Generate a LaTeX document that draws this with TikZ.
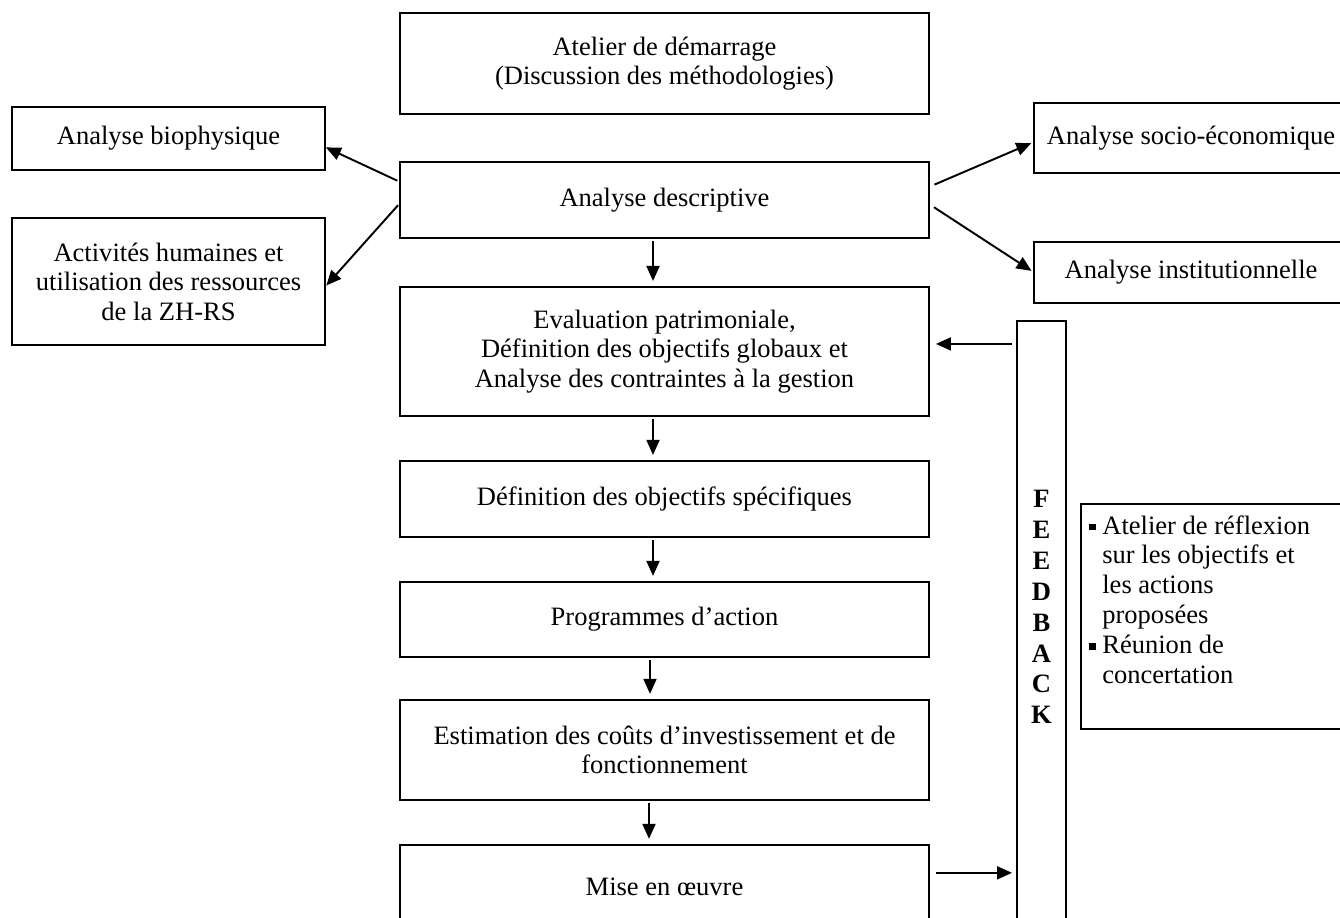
\documentclass[tikz,border=0pt]{standalone}
\usepackage{fontspec}
\setmainfont{Liberation Serif}
\usepackage{tikz}
\usetikzlibrary{positioning}
\usetikzlibrary{arrows.meta}

\newcommand{\puce}{\makebox[0.26cm][l]{\rule[0.14em]{0.25em}{0.25em}}}
\newcommand{\retrait}{\hspace*{0.26cm}}

\tikzset{
	boite/.style={draw,line width=1.1pt,align=center,inner sep=0pt,outer sep=0pt},
	etape/.style={boite,minimum width=10.58cm},
	fleche/.style={line width=1.1pt,-{Triangle[length=0.3cm,width=0.26cm]}},
	vers/.style={fleche,shorten <=0.06cm,shorten >=0.12cm},
}

\begin{document}
\begin{tikzpicture}[x=0.02cm,y=-0.02cm,font=\fontsize{15.1}{16.8}\selectfont]
	\clip (0,0) rectangle (1340,918);
	
	% main column
	\node[etape,minimum height=2.02cm] (demarrage) at (664.5,63.5) {Atelier de démarrage\\(Discussion des méthodologies)};
	\node[etape,minimum height=1.52cm] (descriptive) [below=0.96cm of demarrage] {Analyse descriptive};
	\node[etape,minimum height=2.58cm] (evaluation) [below=0.98cm of descriptive] {Evaluation patrimoniale,\\Définition des objectifs globaux et\\Analyse des contraintes à la gestion};
	\node[etape,minimum height=1.52cm] (specifiques) [below=0.9cm of evaluation] {Définition des objectifs spécifiques};
	\node[etape,minimum height=1.5cm] (programmes) [below=0.9cm of specifiques] {Programmes d’action};
	\node[etape,minimum height=2.0cm] (couts) [below=0.86cm of programmes] {Estimation des coûts d’investissement et de\\fonctionnement};
	\node[etape,minimum height=1.68cm] (miseoeuvre) [below=0.9cm of couts] {Mise en œuvre};
	
	% analyses on both sides
	\node[boite,minimum width=6.26cm,minimum height=1.26cm] (biophysique) at (168.5,138.5) {Analyse biophysique};
	\node[boite,minimum width=6.26cm,minimum height=2.54cm] (activites) at (168.5,281.5) {Activités humaines et\\utilisation des ressources\\de la ZH-RS};
	\node[boite,minimum width=6.28cm,minimum height=1.4cm] (socio) at (1191,138) {Analyse socio-économique};
	\node[boite,minimum width=6.28cm,minimum height=1.22cm] (institution) at (1191,272.5) {Analyse institutionnelle};
	
	% feedback column and its note
	\node[boite,minimum width=0.98cm,minimum height=12.78cm] (feedback) at (1041.5,640.5) {};
	\node[font=\bfseries\fontsize{15.1}{17.6}\selectfont,align=center] (lettres) at (1041.5,607) {F\\E\\E\\D\\B\\A\\C\\K};
	\node[boite,minimum width=5.34cm,minimum height=4.5cm] (reflexion) at (1214.5,616.5) {};
	\node[anchor=north west,align=left,inner sep=0pt,font=\fontsize{15.1}{17}\selectfont] (actions) at (1089,515) {\puce Atelier de réflexion\\\retrait sur les objectifs et\\\retrait les actions\\\retrait proposées\\\puce Réunion de\\\retrait concertation};
	
	% arrows down the column
	\draw[vers] ([xshift=-0.23cm]descriptive.south) -- ([xshift=-0.23cm]evaluation.north);
	\draw[vers] ([xshift=-0.23cm]evaluation.south) -- ([xshift=-0.23cm]specifiques.north);
	\draw[vers] ([xshift=-0.23cm]specifiques.south) -- ([xshift=-0.23cm]programmes.north);
	\draw[vers] ([xshift=-0.29cm]programmes.south) -- ([xshift=-0.29cm]couts.north);
	\draw[vers] ([xshift=-0.31cm]couts.south) -- ([xshift=-0.31cm]miseoeuvre.north);
	
	% arrows to the analyses
	\draw[fleche,shorten <=0.06cm,shorten >=0.02cm] ([yshift=0.36cm]descriptive.west) -- ([yshift=-0.17cm]biophysique.east);
	\draw[fleche,shorten <=0.06cm,shorten >=0.04cm] ([yshift=-0.06cm]descriptive.west) -- ([yshift=-0.11cm]activites.east);
	\draw[fleche,shorten <=0.12cm,shorten >=0.06cm] ([yshift=0.26cm]descriptive.east) -- ([yshift=-0.08cm]socio.west);
	\draw[fleche,shorten <=0.12cm,shorten >=0.06cm] ([yshift=-0.08cm]descriptive.east) -- (institution.west);
	
	% feedback loop
	\draw[fleche,shorten <=0.1cm,shorten >=0.14cm] ([yshift=0.15cm]evaluation.east -| feedback.west) -- ([yshift=0.15cm]evaluation.east);
	\draw[fleche,shorten <=0.14cm,shorten >=0.1cm] ([yshift=0.28cm]miseoeuvre.east) -- ([yshift=0.28cm]miseoeuvre.east -| feedback.west);
	
\end{tikzpicture}
\end{document}
